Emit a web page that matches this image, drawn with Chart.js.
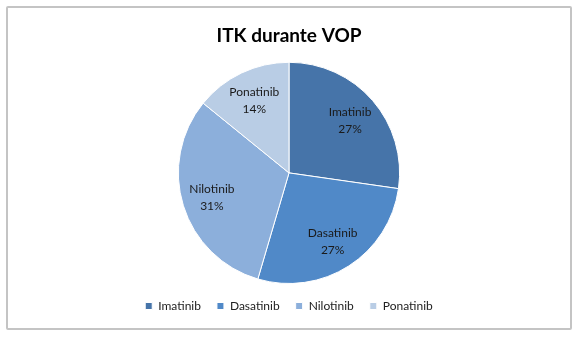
<!DOCTYPE html>
<html>
<head>
<meta charset="utf-8">
<script src="https://cdn.jsdelivr.net/npm/chart.js@4"></script>
<style>
  html, body { margin: 0; padding: 0; background: #fff; }
  #box {
    position: absolute; left: 6px; top: 6px; width: 562px; height: 320px;
    border: 2px solid #c4c4c4; border-radius: 2px; background: #fff;
  }
  canvas { display: block; }
</style>
</head>
<body>
<div id="box"><canvas id="c"></canvas></div>
<script>
const titleText = "ITK durante VOP";
const categories = ["Imatinib", "Dasatinib", "Nilotinib", "Ponatinib"];
const percentages = [27, 27, 31, 14];
const sliceColors = ["#4674a9", "#5089c8", "#8cafdb", "#b9cde5"];

const sliceLabels = {
  id: "sliceLabels",
  afterDatasetsDraw(chart) {
    const ctx = chart.ctx;
    const meta = chart.getDatasetMeta(0);
    ctx.save();
    ctx.font = "12px Lato";
    ctx.fillStyle = "#1a1a1a";
    ctx.textAlign = "center";
    ctx.textBaseline = "middle";
    meta.data.forEach((arc, i) => {
      const p = arc.getProps(["x", "y", "startAngle", "endAngle", "outerRadius"], true);
      const mid = (p.startAngle + p.endAngle) / 2;
      const r = p.outerRadius * 0.73;
      const x = p.x + Math.cos(mid) * r;
      const y = p.y + Math.sin(mid) * r;
      ctx.fillText(categories[i], x, y - 8);
      ctx.fillText(percentages[i] + "%", x, y + 9);
    });
    ctx.restore();
  }
};

new Chart(document.getElementById("c"), {
  type: "pie",
  data: {
    labels: categories,
    datasets: [{
      data: percentages,
      backgroundColor: sliceColors,
      borderColor: "#ffffff",
      borderWidth: 1
    }]
  },
  options: {
    responsive: true,
    maintainAspectRatio: false,
    animation: false,
    layout: { padding: { bottom: 6 } },
    plugins: {
      title: {
        display: true,
        text: titleText,
        color: "#000",
        font: { family: "Lato", size: 19, weight: "bold" },
        padding: { top: 16, bottom: 15 }
      },
      legend: {
        position: "bottom",
        labels: {
          color: "#222",
          font: { family: "Lato", size: 12 },
          boxWidth: 7,
          boxHeight: 7,
          padding: 16
        }
      },
      tooltip: { enabled: false }
    }
  },
  plugins: [sliceLabels]
});
</script>
</body>
</html>
